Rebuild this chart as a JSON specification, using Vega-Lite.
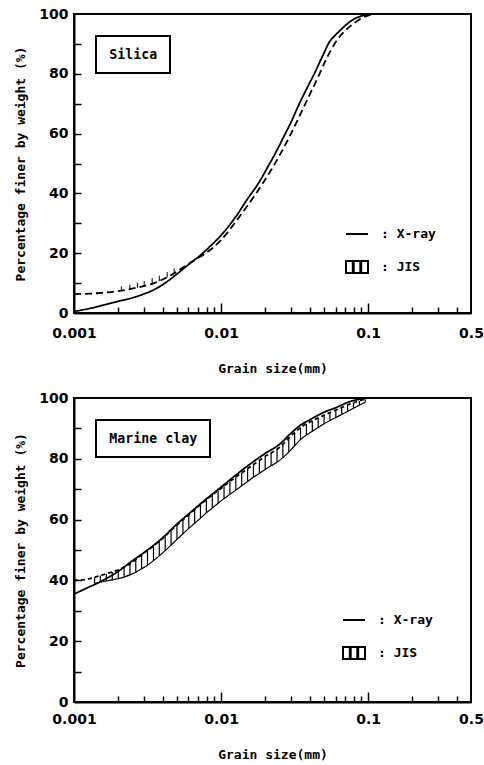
{
  "$schema": "https://vega.github.io/schema/vega-lite/v6.json",
  "background": "white",
  "padding": {"left": 13, "top": 6, "right": 4, "bottom": 4},
  "bounds": "flush",
  "spacing": 85,
  "resolve": {"scale": {"color": "independent", "strokeDash": "independent", "shape": "independent"}},
  "config": {
    "view": {"stroke": "black", "strokeWidth": 2},
    "axis": {
      "domainColor": "black", "domainWidth": 2, "tickColor": "black", "tickWidth": 1.5,
      "labelColor": "black", "titleColor": "black", "labelFont": "DejaVu Sans", "labelFontWeight": "bold",
      "labelFontSize": 14, "titleFont": "DejaVu Sans Mono", "titleFontWeight": "bold", "titleFontSize": 13,
      "grid": false, "labelOverlap": false, "labelFlush": false
    },
    "legend": {"strokeWidth": 2, "labelFont": "DejaVu Sans Mono", "labelFontWeight": "bold", "labelColor": "black"},
    "line": {"color": "black", "strokeWidth": 1.8},
    "rule": {"color": "black", "strokeWidth": 1.2},
    "point": {"color": "black"}
  },
  "datasets": {
    "silica": [
      {"size": 0.001, "pct": 0.5, "series": "X-ray", "sample": "Silica"},
      {"size": 0.0013, "pct": 1.6, "series": "X-ray", "sample": "Silica"},
      {"size": 0.0016, "pct": 2.7, "series": "X-ray", "sample": "Silica"},
      {"size": 0.002, "pct": 3.9, "series": "X-ray", "sample": "Silica"},
      {"size": 0.0025, "pct": 5.1, "series": "X-ray", "sample": "Silica"},
      {"size": 0.003, "pct": 6.4, "series": "X-ray", "sample": "Silica"},
      {"size": 0.0035, "pct": 7.8, "series": "X-ray", "sample": "Silica"},
      {"size": 0.0041, "pct": 9.8, "series": "X-ray", "sample": "Silica"},
      {"size": 0.005, "pct": 13, "series": "X-ray", "sample": "Silica"},
      {"size": 0.006, "pct": 16.2, "series": "X-ray", "sample": "Silica"},
      {"size": 0.0073, "pct": 19.5, "series": "X-ray", "sample": "Silica"},
      {"size": 0.0085, "pct": 22.5, "series": "X-ray", "sample": "Silica"},
      {"size": 0.01, "pct": 26, "series": "X-ray", "sample": "Silica"},
      {"size": 0.0125, "pct": 32, "series": "X-ray", "sample": "Silica"},
      {"size": 0.0152, "pct": 38.3, "series": "X-ray", "sample": "Silica"},
      {"size": 0.018, "pct": 43.5, "series": "X-ray", "sample": "Silica"},
      {"size": 0.0208, "pct": 48.9, "series": "X-ray", "sample": "Silica"},
      {"size": 0.024, "pct": 54.5, "series": "X-ray", "sample": "Silica"},
      {"size": 0.027, "pct": 59.5, "series": "X-ray", "sample": "Silica"},
      {"size": 0.03, "pct": 64, "series": "X-ray", "sample": "Silica"},
      {"size": 0.0333, "pct": 69, "series": "X-ray", "sample": "Silica"},
      {"size": 0.038, "pct": 74.8, "series": "X-ray", "sample": "Silica"},
      {"size": 0.0432, "pct": 80.2, "series": "X-ray", "sample": "Silica"},
      {"size": 0.049, "pct": 86, "series": "X-ray", "sample": "Silica"},
      {"size": 0.0546, "pct": 90.7, "series": "X-ray", "sample": "Silica"},
      {"size": 0.06, "pct": 93, "series": "X-ray", "sample": "Silica"},
      {"size": 0.065, "pct": 94.7, "series": "X-ray", "sample": "Silica"},
      {"size": 0.0728, "pct": 96.9, "series": "X-ray", "sample": "Silica"},
      {"size": 0.08, "pct": 98.3, "series": "X-ray", "sample": "Silica"},
      {"size": 0.0895, "pct": 99.3, "series": "X-ray", "sample": "Silica"},
      {"size": 0.1, "pct": 99.8, "series": "X-ray", "sample": "Silica"},
      {"size": 0.105, "pct": 100, "series": "X-ray", "sample": "Silica"},
      {"size": 0.001, "pct": 6.3, "series": "JIS", "sample": "Silica"},
      {"size": 0.0013, "pct": 6.5, "series": "JIS", "sample": "Silica"},
      {"size": 0.0016, "pct": 6.8, "series": "JIS", "sample": "Silica"},
      {"size": 0.0021, "pct": 7.5, "series": "JIS", "sample": "Silica"},
      {"size": 0.0028, "pct": 8.7, "series": "JIS", "sample": "Silica"},
      {"size": 0.0035, "pct": 10, "series": "JIS", "sample": "Silica"},
      {"size": 0.0045, "pct": 12.5, "series": "JIS", "sample": "Silica"},
      {"size": 0.0055, "pct": 15.2, "series": "JIS", "sample": "Silica"},
      {"size": 0.0065, "pct": 17.5, "series": "JIS", "sample": "Silica"},
      {"size": 0.0075, "pct": 19.3, "series": "JIS", "sample": "Silica"},
      {"size": 0.01, "pct": 24.4, "series": "JIS", "sample": "Silica"},
      {"size": 0.013, "pct": 31.5, "series": "JIS", "sample": "Silica"},
      {"size": 0.0173, "pct": 40, "series": "JIS", "sample": "Silica"},
      {"size": 0.022, "pct": 48, "series": "JIS", "sample": "Silica"},
      {"size": 0.0299, "pct": 60, "series": "JIS", "sample": "Silica"},
      {"size": 0.037, "pct": 69.5, "series": "JIS", "sample": "Silica"},
      {"size": 0.0467, "pct": 80, "series": "JIS", "sample": "Silica"},
      {"size": 0.052, "pct": 85, "series": "JIS", "sample": "Silica"},
      {"size": 0.059, "pct": 90, "series": "JIS", "sample": "Silica"},
      {"size": 0.07, "pct": 94.5, "series": "JIS", "sample": "Silica"},
      {"size": 0.0807, "pct": 97, "series": "JIS", "sample": "Silica"},
      {"size": 0.092, "pct": 98.8, "series": "JIS", "sample": "Silica"},
      {"size": 0.1077, "pct": 100, "series": "JIS", "sample": "Silica"}
    ],
    "silicaband": [
      {"size": 0.0021, "lo": 7.4, "hi": 8.9},
      {"size": 0.0024, "lo": 7.9, "hi": 9.5},
      {"size": 0.0027, "lo": 8.4, "hi": 10.1},
      {"size": 0.003, "lo": 8.9, "hi": 10.7},
      {"size": 0.0034, "lo": 9.7, "hi": 11.6},
      {"size": 0.0038, "lo": 10.6, "hi": 12.5},
      {"size": 0.0043, "lo": 11.9, "hi": 13.7},
      {"size": 0.0048, "lo": 13.3, "hi": 14.9}
    ],
    "clay": [
      {"size": 0.001, "pct": 35.5, "series": "X-ray", "sample": "Marine clay"},
      {"size": 0.0012, "pct": 37.3, "series": "X-ray", "sample": "Marine clay"},
      {"size": 0.0015, "pct": 39.5, "series": "X-ray", "sample": "Marine clay"},
      {"size": 0.002, "pct": 43, "series": "X-ray", "sample": "Marine clay"},
      {"size": 0.0025, "pct": 46.5, "series": "X-ray", "sample": "Marine clay"},
      {"size": 0.003, "pct": 49.2, "series": "X-ray", "sample": "Marine clay"},
      {"size": 0.004, "pct": 54, "series": "X-ray", "sample": "Marine clay"},
      {"size": 0.005, "pct": 58.5, "series": "X-ray", "sample": "Marine clay"},
      {"size": 0.006, "pct": 61.8, "series": "X-ray", "sample": "Marine clay"},
      {"size": 0.0075, "pct": 65.8, "series": "X-ray", "sample": "Marine clay"},
      {"size": 0.01, "pct": 70.7, "series": "X-ray", "sample": "Marine clay"},
      {"size": 0.0125, "pct": 74.5, "series": "X-ray", "sample": "Marine clay"},
      {"size": 0.015, "pct": 77.5, "series": "X-ray", "sample": "Marine clay"},
      {"size": 0.02, "pct": 81.8, "series": "X-ray", "sample": "Marine clay"},
      {"size": 0.025, "pct": 84.8, "series": "X-ray", "sample": "Marine clay"},
      {"size": 0.03, "pct": 88.5, "series": "X-ray", "sample": "Marine clay"},
      {"size": 0.035, "pct": 91.2, "series": "X-ray", "sample": "Marine clay"},
      {"size": 0.04, "pct": 92.8, "series": "X-ray", "sample": "Marine clay"},
      {"size": 0.05, "pct": 95.3, "series": "X-ray", "sample": "Marine clay"},
      {"size": 0.06, "pct": 96.8, "series": "X-ray", "sample": "Marine clay"},
      {"size": 0.075, "pct": 98.8, "series": "X-ray", "sample": "Marine clay"},
      {"size": 0.09, "pct": 99.7, "series": "X-ray", "sample": "Marine clay"},
      {"size": 0.1, "pct": 100, "series": "X-ray", "sample": "Marine clay"},
      {"size": 0.001, "pct": 40, "series": "JIS", "sample": "Marine clay"},
      {"size": 0.0012, "pct": 40.3, "series": "JIS", "sample": "Marine clay"},
      {"size": 0.00138, "pct": 41.0, "series": "JIS", "sample": "Marine clay"},
      {"size": 0.00166, "pct": 42.2, "series": "JIS", "sample": "Marine clay"},
      {"size": 0.002, "pct": 43.5, "series": "JIS", "sample": "Marine clay"},
      {"size": 0.0024, "pct": 45.5, "series": "JIS", "sample": "Marine clay"},
      {"size": 0.003, "pct": 49.0, "series": "JIS", "sample": "Marine clay"},
      {"size": 0.004, "pct": 53.8, "series": "JIS", "sample": "Marine clay"},
      {"size": 0.005, "pct": 58.2, "series": "JIS", "sample": "Marine clay"},
      {"size": 0.006, "pct": 61.5, "series": "JIS", "sample": "Marine clay"},
      {"size": 0.008, "pct": 66.7, "series": "JIS", "sample": "Marine clay"},
      {"size": 0.01, "pct": 70.3, "series": "JIS", "sample": "Marine clay"},
      {"size": 0.0125, "pct": 73.9, "series": "JIS", "sample": "Marine clay"},
      {"size": 0.015, "pct": 76.6, "series": "JIS", "sample": "Marine clay"},
      {"size": 0.02, "pct": 80.8, "series": "JIS", "sample": "Marine clay"},
      {"size": 0.025, "pct": 83.8, "series": "JIS", "sample": "Marine clay"},
      {"size": 0.03, "pct": 87.6, "series": "JIS", "sample": "Marine clay"},
      {"size": 0.035, "pct": 90.4, "series": "JIS", "sample": "Marine clay"},
      {"size": 0.04, "pct": 92.1, "series": "JIS", "sample": "Marine clay"},
      {"size": 0.05, "pct": 94.3, "series": "JIS", "sample": "Marine clay"},
      {"size": 0.06, "pct": 96.0, "series": "JIS", "sample": "Marine clay"},
      {"size": 0.075, "pct": 98.0, "series": "JIS", "sample": "Marine clay"},
      {"size": 0.09, "pct": 99.3, "series": "JIS", "sample": "Marine clay"},
      {"size": 0.1, "pct": 100, "series": "JIS", "sample": "Marine clay"}
    ],
    "clayband": [
      {"size": 0.00138, "hi": 41.0, "lo": 39.0},
      {"size": 0.00151, "hi": 41.6, "lo": 39.4},
      {"size": 0.00166, "hi": 42.2, "lo": 39.8},
      {"size": 0.00182, "hi": 42.8, "lo": 40.2},
      {"size": 0.002, "hi": 43.5, "lo": 40.6},
      {"size": 0.00219, "hi": 44.3, "lo": 41.1},
      {"size": 0.0024, "hi": 45.5, "lo": 41.8},
      {"size": 0.00263, "hi": 46.9, "lo": 42.7},
      {"size": 0.00288, "hi": 48.3, "lo": 43.8},
      {"size": 0.00316, "hi": 49.6, "lo": 45.0},
      {"size": 0.00347, "hi": 51.2, "lo": 46.5},
      {"size": 0.0038, "hi": 52.8, "lo": 48.1},
      {"size": 0.00417, "hi": 54.5, "lo": 49.8},
      {"size": 0.00457, "hi": 56.3, "lo": 51.6},
      {"size": 0.00501, "hi": 58.2, "lo": 53.5},
      {"size": 0.0055, "hi": 59.9, "lo": 55.3},
      {"size": 0.00603, "hi": 61.6, "lo": 57.1},
      {"size": 0.00661, "hi": 63.3, "lo": 58.8},
      {"size": 0.00724, "hi": 64.9, "lo": 60.5},
      {"size": 0.00794, "hi": 66.5, "lo": 62.2},
      {"size": 0.00871, "hi": 68.1, "lo": 63.8},
      {"size": 0.00955, "hi": 69.6, "lo": 65.4},
      {"size": 0.01047, "hi": 71.1, "lo": 66.9},
      {"size": 0.01148, "hi": 72.5, "lo": 68.3},
      {"size": 0.01259, "hi": 73.9, "lo": 69.7},
      {"size": 0.0138, "hi": 75.3, "lo": 71.1},
      {"size": 0.01514, "hi": 76.7, "lo": 72.5},
      {"size": 0.0166, "hi": 78.1, "lo": 73.9},
      {"size": 0.0182, "hi": 79.4, "lo": 75.2},
      {"size": 0.01995, "hi": 80.7, "lo": 76.5},
      {"size": 0.02188, "hi": 81.9, "lo": 77.7},
      {"size": 0.02399, "hi": 83.1, "lo": 78.9},
      {"size": 0.0263, "hi": 84.7, "lo": 80.4},
      {"size": 0.02884, "hi": 86.5, "lo": 82.2},
      {"size": 0.03162, "hi": 88.5, "lo": 84.3},
      {"size": 0.03467, "hi": 90.3, "lo": 86.3},
      {"size": 0.03802, "hi": 91.5, "lo": 87.8},
      {"size": 0.04169, "hi": 92.5, "lo": 89.1},
      {"size": 0.04571, "hi": 93.4, "lo": 90.3},
      {"size": 0.05012, "hi": 94.3, "lo": 91.5},
      {"size": 0.05495, "hi": 95.2, "lo": 92.6},
      {"size": 0.06026, "hi": 96.0, "lo": 93.6},
      {"size": 0.06607, "hi": 96.8, "lo": 94.6},
      {"size": 0.07244, "hi": 97.6, "lo": 95.6},
      {"size": 0.07943, "hi": 98.3, "lo": 96.6},
      {"size": 0.0871, "hi": 99.0, "lo": 97.6},
      {"size": 0.0955, "hi": 99.5, "lo": 98.6}
    ]
  },
  "vconcat": [
    {
      "width": 397,
      "height": 299,
      "resolve": {"axis": {"x": "independent", "y": "independent"}},
      "layer": [
        {
          "data": {"name": "silica"},
          "mark": {"type": "line", "interpolate": "monotone"},
          "encoding": {
            "x": {"field": "size", "type": "quantitative",
              "scale": {"type": "log", "domain": [0.001, 0.5], "nice": false},
              "axis": {"orient": "bottom", "title": "Grain size(mm)", "values": [0.001, 0.01, 0.1, 0.5],
                "format": "~g", "ticks": true, "tickSize": 0, "labelPadding": 13, "titlePadding": 22}},
            "y": {"field": "pct", "type": "quantitative",
              "scale": {"domain": [0, 100], "nice": false},
              "axis": {"orient": "left", "title": "Percentage finer by weight (%)", "values": [0, 20, 40, 60, 80, 100],
                "ticks": true, "tickSize": 0, "labelPadding": 6, "titlePadding": 11}},
            "strokeDash": {"field": "series", "type": "nominal",
              "scale": {"range": [[7, 4], [1, 0]]}, "legend": null},
            "color": {"field": "sample", "type": "nominal", "scale": {"range": ["black"]},
              "legend": {"title": null, "orient": "top-left", "offset": 22, "padding": 12, "strokeColor": "black",
                "symbolSize": 0, "symbolOpacity": 0, "symbolStrokeWidth": 0, "labelOffset": -12, "labelFontSize": 13.3}}
          }
        },
        {
          "data": {"name": "silicaband"},
          "mark": {"type": "rule", "strokeWidth": 1},
          "encoding": {
            "x": {"field": "size", "type": "quantitative",
              "axis": {"orient": "bottom", "title": null, "labels": false, "domain": false,
                "values": [0.002, 0.003, 0.004, 0.005, 0.006, 0.007, 0.008, 0.009, 0.02, 0.03, 0.04, 0.05, 0.06, 0.07, 0.08, 0.09, 0.2, 0.3, 0.4],
                "tickSize": 6, "offset": -6}},
            "y": {"field": "lo", "type": "quantitative",
              "axis": {"orient": "left", "title": null, "labels": false, "domain": false,
                "values": [10, 20, 30, 40, 50, 60, 70, 80, 90], "tickSize": 7, "offset": -7}},
            "y2": {"field": "hi"}
          }
        },
        {
          "data": {"name": "silica"},
          "mark": {"type": "point", "size": 0, "filled": false},
          "encoding": {
            "x": {"field": "size", "type": "quantitative",
              "axis": {"orient": "bottom", "title": null, "labels": false, "domain": false,
                "values": [0.01, 0.1], "tickSize": 10, "offset": -10}},
            "y": {"field": "pct", "type": "quantitative", "axis": null},
            "shape": {"field": "series", "type": "nominal",
              "scale": {"domain": ["X-ray", "JIS"], "range": ["stroke", "M-1,-0.55H-0.38V0.55H-1Z M-0.3,-0.55H0.3V0.55H-0.3Z M0.38,-0.55H1V0.55H0.38Z"]},
              "legend": {"title": null, "orient": "bottom-right", "offset": 35, "padding": 0,
                "symbolSize": 484, "symbolStrokeWidth": 2, "symbolStrokeColor": "black", "symbolFillColor": "transparent", "symbolOpacity": 1,
                "labelExpr": "': ' + datum.label", "labelFontSize": 13, "labelOffset": 12, "rowPadding": 14}}
          }
        }
      ]
    },
    {
      "width": 397,
      "height": 304,
      "resolve": {"axis": {"x": "independent", "y": "independent"}},
      "layer": [
        {
          "data": {"name": "clay"},
          "mark": {"type": "line", "interpolate": "monotone"},
          "encoding": {
            "x": {"field": "size", "type": "quantitative",
              "scale": {"type": "log", "domain": [0.001, 0.5], "nice": false},
              "axis": {"orient": "bottom", "title": "Grain size(mm)", "values": [0.001, 0.01, 0.1, 0.5],
                "format": "~g", "ticks": true, "tickSize": 0, "labelPadding": 10, "titlePadding": 22}},
            "y": {"field": "pct", "type": "quantitative",
              "scale": {"domain": [0, 100], "nice": false},
              "axis": {"orient": "left", "title": "Percentage finer by weight (%)", "values": [0, 20, 40, 60, 80, 100],
                "ticks": true, "tickSize": 0, "labelPadding": 6, "titlePadding": 11}},
            "strokeDash": {"field": "series", "type": "nominal",
              "scale": {"range": [[4, 3], [1, 0]]}, "legend": null},
            "color": {"field": "sample", "type": "nominal", "scale": {"range": ["black"]},
              "legend": {"title": null, "orient": "top-left", "offset": 22, "padding": 12, "strokeColor": "black",
                "symbolSize": 0, "symbolOpacity": 0, "symbolStrokeWidth": 0, "labelOffset": -12, "labelFontSize": 13.3}}
          }
        },
        {
          "data": {"name": "clayband"},
          "mark": {"type": "rule"},
          "encoding": {
            "x": {"field": "size", "type": "quantitative",
              "axis": {"orient": "bottom", "title": null, "labels": false, "domain": false,
                "values": [0.002, 0.003, 0.004, 0.005, 0.006, 0.007, 0.008, 0.009, 0.02, 0.03, 0.04, 0.05, 0.06, 0.07, 0.08, 0.09, 0.2, 0.3, 0.4],
                "tickSize": 6, "offset": -6}},
            "y": {"field": "lo", "type": "quantitative",
              "axis": {"orient": "left", "title": null, "labels": false, "domain": false,
                "values": [10, 20, 30, 40, 50, 60, 70, 80, 90], "tickSize": 7, "offset": -7}},
            "y2": {"field": "hi"}
          }
        },
        {
          "data": {"name": "clayband"},
          "mark": {"type": "line", "strokeWidth": 1.2, "interpolate": "monotone"},
          "encoding": {
            "x": {"field": "size", "type": "quantitative",
              "axis": {"orient": "bottom", "title": null, "labels": false, "domain": false,
                "values": [0.01, 0.1], "tickSize": 10, "offset": -10}},
            "y": {"field": "lo", "type": "quantitative", "axis": null}
          }
        },
        {
          "data": {"name": "clay"},
          "mark": {"type": "point", "size": 0, "filled": false},
          "encoding": {
            "x": {"field": "size", "type": "quantitative", "axis": null},
            "y": {"field": "pct", "type": "quantitative", "axis": null},
            "shape": {"field": "series", "type": "nominal",
              "scale": {"domain": ["X-ray", "JIS"], "range": ["stroke", "M-1,-0.55H-0.38V0.55H-1Z M-0.3,-0.55H0.3V0.55H-0.3Z M0.38,-0.55H1V0.55H0.38Z"]},
              "legend": {"title": null, "orient": "bottom-right", "offset": 38, "padding": 0,
                "symbolSize": 484, "symbolStrokeWidth": 2, "symbolStrokeColor": "black", "symbolFillColor": "transparent", "symbolOpacity": 1,
                "labelExpr": "': ' + datum.label", "labelFontSize": 13, "labelOffset": 12, "rowPadding": 14}}
          }
        }
      ]
    }
  ]
}
